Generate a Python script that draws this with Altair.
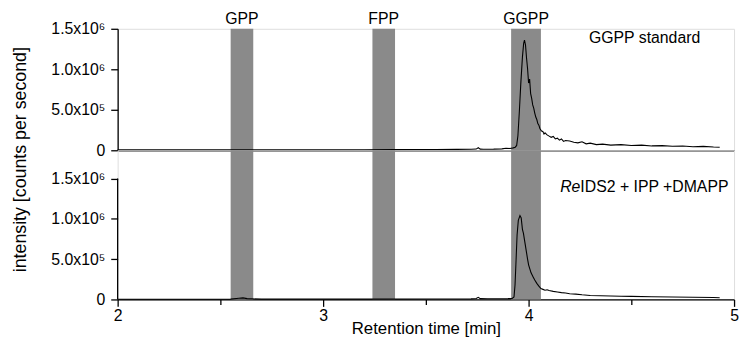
import altair as alt
import pandas as pd

# ---------------- data ----------------
band_names = ["GPP", "FPP", "GGPP"]
band_start = [2.55, 3.24, 3.915]
band_end = [2.66, 3.35, 4.06]
band_center = [2.605, 3.295, 3.988]

# GGPP standard trace (retention time [min], intensity [cps])
time_std = [2.00, 2.30, 2.60, 2.90, 3.20, 3.35, 3.45, 3.55, 3.65, 3.72, 3.745, 3.755, 3.765,
            3.78, 3.83, 3.87, 3.89, 3.91, 3.925, 3.935, 3.942, 3.948, 3.955, 3.962, 3.97,
            3.976, 3.98, 3.985, 3.99, 3.995, 4.00, 4.005, 4.01, 4.015, 4.02, 4.025, 4.03,
            4.035, 4.04, 4.045, 4.05, 4.055, 4.062, 4.07, 4.075, 4.08, 4.09, 4.10, 4.11,
            4.12, 4.13, 4.14, 4.15, 4.16, 4.17, 4.18, 4.20, 4.22, 4.24, 4.26, 4.28, 4.30,
            4.33, 4.36, 4.40, 4.45, 4.50, 4.55, 4.60, 4.65, 4.70, 4.75, 4.80, 4.85, 4.90, 4.93]
int_std = [5000, 5000, 5000, 5000, 6000, 8000, 9000, 10000, 11000, 12000, 15000, 32000, 14000,
           12000, 14000, 18000, 25000, 22000, 30000, 38000, 60000, 180000, 480000, 820000, 1150000,
           1320000, 1360000, 1300000, 1140000, 1010000, 830000, 880000, 700000, 640000, 560000, 520000, 460000,
           410000, 380000, 330000, 310000, 270000, 240000, 230000, 200000, 215000, 190000, 175000, 160000,
           170000, 140000, 150000, 125000, 140000, 110000, 120000, 115000, 100000, 92000, 105000, 80000, 88000,
           70000, 76000, 64000, 70000, 60000, 64000, 54000, 58000, 50000, 53000, 44000, 48000, 40000, 38000]

# RelDS2 + IPP + DMAPP trace
time_enz = [2.00, 2.30, 2.55, 2.59, 2.61, 2.63, 2.70, 3.00, 3.30, 3.55, 3.72, 3.745, 3.755,
            3.765, 3.80, 3.85, 3.90, 3.92, 3.929, 3.934, 3.938, 3.944, 3.95, 3.958, 3.964,
            3.97, 3.975, 3.98, 3.99, 3.995, 4.00, 4.006, 4.012, 4.018, 4.022, 4.03, 4.04,
            4.05, 4.06, 4.07, 4.08, 4.09, 4.10, 4.12, 4.14, 4.16, 4.18, 4.20, 4.23, 4.26,
            4.30, 4.35, 4.40, 4.45, 4.50, 4.60, 4.70, 4.80, 4.90, 4.93]
int_enz = [3000, 3000, 4000, 15000, 20000, 10000, 4000, 4000, 4000, 5000, 7000, 12000, 26000,
           10000, 8000, 9000, 10000, 12000, 30000, 180000, 420000, 800000, 980000, 1040000, 1010000,
           870000, 820000, 740000, 580000, 500000, 430000, 380000, 330000, 300000, 280000, 240000, 200000,
           165000, 135000, 125000, 115000, 120000, 110000, 100000, 92000, 85000, 80000, 70000, 66000, 58000,
           50000, 46000, 42000, 40000, 38000, 34000, 30000, 27000, 24000, 22000]

label_std = ["GGPP standard"]
label_enz_italic = ["Re"]
label_enz_rest = ["IDS2 + IPP +DMAPP"]

y_major = [0, 500000, 1000000, 1500000]
y_major_labels = ["0", "5.0x10\u2075", "1.0x10\u2076", "1.5x10\u2076"]
y_ticks = [0, 250000, 500000, 750000, 1000000, 1250000, 1500000]
x_ticks = [2, 2.5, 3, 3.5, 4, 4.5, 5]

# ---------------- helpers ----------------
FONT = "Liberation Sans"
BAND_COLOR = "#8a8a8a"
W = 624
H_TOP = 123
H_BOT = 151
TOP_MAX = 1500000
BOT_MAX = 1850000
LW = 1.3

bands = pd.DataFrame({"name": band_names, "start": band_start, "end": band_end,
                      "center": band_center, "ylab": [1616000] * 3})
std_df = pd.DataFrame({"t": time_std, "v": int_std})
enz_df = pd.DataFrame({"t": time_enz, "v": int_enz})

label_expr = ""
for val, lab in zip(y_major, y_major_labels):
    label_expr += f"datum.value == {val} ? '{lab}' : "
label_expr += "''"

y_tick_size = {"condition": {"test": "datum.value % 500000 != 0", "value": 4}, "value": 7}
x_tick_size = {"condition": {"test": "datum.value % 1 != 0", "value": 5}, "value": 7}

xscale = alt.Scale(domain=[2, 5], nice=False, zero=False)

def y_axis(domain_line, title=None):
    kw = dict(values=y_ticks, labelExpr=label_expr, tickSize=y_tick_size,
              labelFontSize=16, labelPadding=6, labelFont=FONT, labelColor="black",
              tickColor="black", tickWidth=LW, domain=domain_line, domainColor="black",
              domainWidth=LW, grid=False)
    if title is not None:
        kw.update(title=title, titleFontSize=18, titleFont=FONT, titleFontWeight="normal",
                  titleColor="black", titleX=-98, titleY=132, titleAngle=-90,
                  titleAlign="center", titleBaseline="middle")
    else:
        kw.update(title=None)
    return alt.Axis(**kw)

top_x_axis = alt.Axis(labels=False, ticks=False, title=None, domainColor="black",
                      domainWidth=LW, grid=False)

# ---------------- top panel ----------------
top_y_scale = alt.Scale(domain=[0, TOP_MAX], nice=False)

top_bands = alt.Chart(bands).mark_rect(color=BAND_COLOR).encode(
    x=alt.X("start:Q", scale=xscale, axis=top_x_axis),
    x2="end:Q",
)
top_band_labels = alt.Chart(bands).mark_text(font=FONT, fontSize=16, color="black",
                                             baseline="middle").encode(
    x=alt.X("center:Q", scale=xscale),
    y=alt.Y("ylab:Q", scale=top_y_scale),
    text="name:N",
)
top_line = alt.Chart(std_df).mark_line(color="black", strokeWidth=1.1).encode(
    x=alt.X("t:Q", scale=xscale, axis=top_x_axis),
    y=alt.Y("v:Q", scale=top_y_scale,
            axis=y_axis(True, "intensity [counts per second]")),
)
top_text = alt.Chart(pd.DataFrame({"t": [4.294], "v": [1390000], "s": label_std})).mark_text(
    font=FONT, fontSize=16, color="black", align="left", baseline="middle").encode(
    x=alt.X("t:Q", scale=xscale), y=alt.Y("v:Q", scale=top_y_scale), text="s:N")

top = alt.layer(top_bands, top_line, top_band_labels, top_text).properties(width=W, height=H_TOP)

# ---------------- bottom panel ----------------
bot_y_scale = alt.Scale(domain=[0, BOT_MAX], nice=False)
bot_x_axis = alt.Axis(values=x_ticks, labelExpr="datum.value % 1 == 0 ? format(datum.value, 'd') : ''",
                      tickSize=x_tick_size, labelFontSize=16, labelFont=FONT, labelColor="black",
                      labelPadding=1, labelFlush=False,
                      tickColor="black", tickWidth=LW,
                      domainColor="black", domainWidth=LW, grid=False,
                      title="Retention time [min]", titleFontSize=17, titleFont=FONT,
                      titleFontWeight="normal", titleColor="black", titlePadding=-3)

bot_bands = alt.Chart(bands).mark_rect(color=BAND_COLOR).encode(
    x=alt.X("start:Q", scale=xscale, axis=bot_x_axis),
    x2="end:Q",
)
bot_line = alt.Chart(enz_df).mark_line(color="black", strokeWidth=1.1).encode(
    x=alt.X("t:Q", scale=xscale, axis=bot_x_axis),
    y=alt.Y("v:Q", scale=bot_y_scale, axis=y_axis(False)),
)
bot_domain = alt.Chart(pd.DataFrame({"t": [2.0], "a": [0], "b": [TOP_MAX]})).mark_rule(
    color="black", strokeWidth=LW).encode(
    x=alt.X("t:Q", scale=xscale), y=alt.Y("a:Q", scale=bot_y_scale), y2="b:Q")
txt_df = pd.DataFrame({"t": [4.252], "v": [1398000], "a": label_enz_italic, "b": label_enz_rest})
bot_text1 = alt.Chart(txt_df).mark_text(font=FONT, fontSize=16, fontStyle="italic", color="black",
                                        align="right", baseline="middle").encode(
    x=alt.X("t:Q", scale=xscale), y=alt.Y("v:Q", scale=bot_y_scale), text="a:N")
bot_text2 = alt.Chart(txt_df).mark_text(font=FONT, fontSize=16, color="black",
                                        align="left", baseline="middle").encode(
    x=alt.X("t:Q", scale=xscale), y=alt.Y("v:Q", scale=bot_y_scale), text="b:N")

bot = alt.layer(bot_bands, bot_line, bot_domain, bot_text1, bot_text2).properties(width=W, height=H_BOT)

chart = alt.vconcat(top, bot, spacing=0, bounds="flush").properties(
    padding={"left": 3, "top": 0, "right": 0, "bottom": 1}
).configure_view(stroke=None).configure(background="white")

chart.save("out.html", embed_options={"renderer": "svg", "actions": False})
